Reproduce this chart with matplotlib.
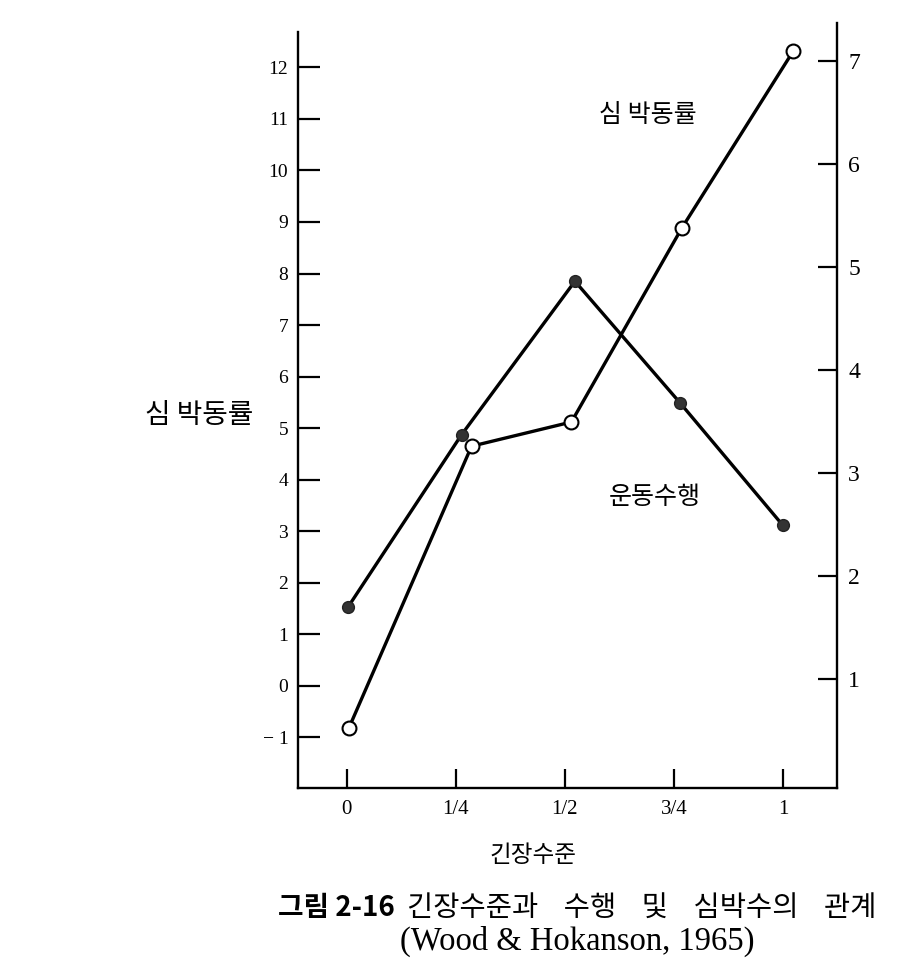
import matplotlib
matplotlib.use("Agg")
import matplotlib.pyplot as plt

# ---- data ----
x_ticks = [0, 0.25, 0.5, 0.75, 1.0]
x_ticklabels = ["0", "1/4", "1/2", "3/4", "1"]

# heart rate (left axis), open circles
hr_x = [0.005, 0.286, 0.515, 0.768, 1.024]
hr_y = [-0.81, 4.65, 5.12, 8.88, 12.32]

# motor performance (right axis), filled circles
perf_x = [0.003, 0.263, 0.523, 0.764, 1.0]
perf_y = [1.70, 3.37, 4.86, 3.68, 2.49]

left_ticks = list(range(-1, 13))
left_ticklabels = ["\u2212 1"] + [str(v) for v in range(0, 13)]
right_ticks = [1, 2, 3, 4, 5, 6, 7]
right_ticklabels = [str(v) for v in right_ticks]

KR = ["Noto Sans CJK KR", "DejaVu Sans"]
SERIF = ["Liberation Serif", "DejaVu Serif"]

fig = plt.figure(figsize=(9, 9.74), dpi=100)
L, R, B, T = 298 / 900, 837 / 900, 1 - 788 / 974, 1 - 23 / 974
ax = fig.add_axes([L, B, R - L, T - B])
ax.set_xlim(-0.112, 1.124)
ax.set_ylim(-1.98, 12.86)
ax2 = ax.twinx()
ax2.set_ylim(-0.058, 7.366)

for s in ["top", "right"]:
    ax.spines[s].set_visible(False)
for s in ["top", "left", "bottom"]:
    ax2.spines[s].set_visible(False)
ax.spines["left"].set_bounds(-1.98, 12.68)
for sp in [ax.spines["left"], ax.spines["bottom"], ax2.spines["right"]]:
    sp.set_linewidth(1.7)
    sp.set_color("black")

ax.set_xticks(x_ticks)
ax.set_xticklabels(x_ticklabels, fontfamily=SERIF, fontsize=15)
ax.set_yticks(left_ticks)
ax.set_yticklabels(left_ticklabels, fontfamily=SERIF, fontsize=14)
ax2.set_yticks(right_ticks)
ax2.set_yticklabels(right_ticklabels, fontfamily=SERIF, fontsize=17)

ax.tick_params(axis="x", direction="in", length=14, width=1.6, pad=9)
ax.tick_params(axis="y", direction="in", length=16, width=1.6, pad=7)
ax2.tick_params(axis="y", direction="in", length=14, width=1.6, pad=8)

# lines
ax.plot(hr_x, hr_y, color="black", lw=2.4, marker="o", ms=10,
        mfc="white", mec="black", mew=1.5, zorder=3, clip_on=False)
ax2.plot(perf_x, perf_y, color="black", lw=2.4, marker="o", ms=8.5,
         mfc="#333333", mec="#222222", mew=1.0, zorder=4, clip_on=False)

# annotations
fig.text(648 / 900, 1 - 115 / 974, "심 박동률", ha="center", va="center",
         fontfamily=KR, fontsize=18)
fig.text(655 / 900, 1 - 497 / 974, "운동수행", ha="center", va="center",
         fontfamily=KR, fontsize=18)
fig.text(199 / 900, 1 - 415 / 974, "심 박동률", ha="center", va="center",
         fontfamily=KR, fontsize=20)
fig.text(533 / 900, 1 - 855 / 974, "긴장수준", ha="center", va="center",
         fontfamily=KR, fontsize=17)

# caption: bold figure number + regular title
t1 = fig.text(278 / 900, 1 - 908 / 974, "그림 2-16", ha="left", va="center",
              fontfamily=KR, fontsize=20, fontweight="bold")
fig.canvas.draw()
bb = t1.get_window_extent()
fig.text((bb.x1 + 12) / 900, 1 - 908 / 974,
         "긴장수준과    수행    및    심박수의    관계",
         ha="left", va="center", fontfamily=KR, fontsize=20.5)
fig.text(577 / 900, 1 - 941 / 974, "(Wood & Hokanson, 1965)",
         ha="center", va="center", fontfamily=SERIF, fontsize=23.5)

fig.savefig("out.png", dpi=100)
